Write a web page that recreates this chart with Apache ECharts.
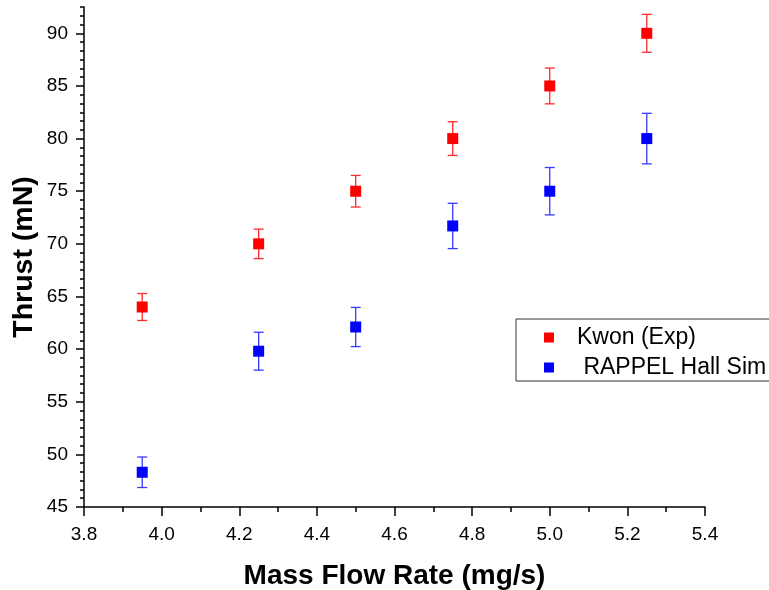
<!DOCTYPE html>
<html>
<head>
<meta charset="utf-8">
<script src="https://cdn.jsdelivr.net/npm/echarts@6/dist/echarts.min.js"></script>
<style>html,body{margin:0;padding:0;background:#fff;}#c{width:769px;height:590px;}</style>
</head>
<body>
<div id="c"></div>
<script>
var massFlow = [3.95, 4.25, 4.5, 4.75, 5.0, 5.25];
var kwonThrust = [64, 70, 75, 80, 85, 90];
var kwonErr = [1.28, 1.4, 1.5, 1.6, 1.7, 1.8];
var rappelThrust = [48.3, 59.8, 62.1, 71.7, 75.0, 80.0];
var rappelErr = [1.45, 1.8, 1.86, 2.15, 2.25, 2.4];
var yTicks = [45, 50, 55, 60, 65, 70, 75, 80, 85, 90];
var xTicks = [3.8, 4.0, 4.2, 4.4, 4.6, 4.8, 5.0, 5.2, 5.4];
var seriesNames = ['Kwon (Exp)', ' RAPPEL Hall Sim'];

var FONT = 'Liberation Sans, Arial, sans-serif';
var chart = echarts.init(document.getElementById('c'), null, {renderer: 'canvas'});

function pts(xs, ys) { return xs.map(function (x, i) { return [x, ys[i]]; }); }
function errs(xs, ys, es) { return xs.map(function (x, i) { return [x, ys[i] - es[i], ys[i] + es[i]]; }); }

function errRender(color) {
  return function (params, api) {
    var x = api.value(0);
    var lo = api.coord([x, api.value(1)]);
    var hi = api.coord([x, api.value(2)]);
    var hw = 5;
    var st = {stroke: color, lineWidth: 1.3};
    return {
      type: 'group',
      children: [
        {type: 'line', shape: {x1: lo[0], y1: lo[1], x2: hi[0], y2: hi[1]}, style: st},
        {type: 'line', shape: {x1: lo[0] - hw, y1: lo[1], x2: lo[0] + hw, y2: lo[1]}, style: st},
        {type: 'line', shape: {x1: hi[0] - hw, y1: hi[1], x2: hi[0] + hw, y2: hi[1]}, style: st}
      ]
    };
  };
}

var axisLineStyle = {color: '#000', width: 1.5};

chart.setOption({
  animation: false,
  backgroundColor: '#fff',
  grid: {left: 84, right: 64, top: 7, bottom: 83, containLabel: false, outerBoundsMode: 'none'},
  legend: {
    orient: 'vertical',
    left: 516,
    top: 319,
    padding: [7, 40, 2, 28],
    itemGap: 7,
    itemWidth: 10,
    itemHeight: 10,
    borderColor: '#333',
    borderWidth: 1,
    backgroundColor: '#fff',
    data: [{name: seriesNames[0], icon: 'rect'}, {name: seriesNames[1], icon: 'rect'}],
    textStyle: {fontFamily: FONT, fontSize: 23, color: '#000', lineHeight: 22, padding: [0, 0, 0, 18]}
  },
  xAxis: {
    type: 'value',
    min: 3.8,
    max: 5.4,
    interval: 0.2,
    name: 'Mass Flow Rate (mg/s)',
    nameLocation: 'middle',
    nameGap: 55,
    nameMoveOverlap: false,
    nameTextStyle: {fontFamily: FONT, fontSize: 28, fontWeight: 'bold', color: '#000'},
    axisLine: {lineStyle: axisLineStyle},
    axisTick: {show: true, length: 9, lineStyle: {color: '#000', width: 1.5}},
    minorTick: {show: true, splitNumber: 2, length: 5, lineStyle: {color: '#000', width: 1.5}},
    axisLabel: {fontFamily: FONT, fontSize: 19, color: '#000', margin: 18,
      formatter: function (v) { return v.toFixed(1); }},
    splitLine: {show: false},
    minorSplitLine: {show: false}
  },
  yAxis: [{
    type: 'value',
    position: 'left',
    min: 45,
    max: 92.5,
    interval: 5,
    name: 'Thrust (mN)',
    nameLocation: 'middle',
    nameGap: 45,
    nameMoveOverlap: false,
    nameTextStyle: {fontFamily: FONT, fontSize: 28.5, fontWeight: 'bold', color: '#000'},
    axisLine: {show: true, lineStyle: axisLineStyle},
    axisTick: {show: true, length: 8, customValues: yTicks, lineStyle: {color: '#000', width: 1.5}},
    axisLabel: {fontFamily: FONT, fontSize: 19, color: '#000', margin: 16, customValues: yTicks},
    splitLine: {show: false}
  }, {
    type: 'value',
    position: 'left',
    min: 45,
    max: 92.5,
    interval: 5 / 6,
    axisLine: {show: false},
    axisTick: {show: true, length: 4, lineStyle: {color: '#000', width: 1.5}},
    axisLabel: {show: false},
    splitLine: {show: false}
  }],
  series: [
    {
      type: 'custom', name: seriesNames[0] + '_err', yAxisIndex: 0,
      renderItem: errRender('#ff2a2a'), data: errs(massFlow, kwonThrust, kwonErr), z: 1, silent: true
    },
    {
      type: 'custom', name: seriesNames[1] + '_err', yAxisIndex: 0,
      renderItem: errRender('#3a3aff'), data: errs(massFlow, rappelThrust, rappelErr), z: 1, silent: true
    },
    {
      type: 'scatter', name: seriesNames[0], yAxisIndex: 0, symbol: 'rect', symbolSize: 11,
      itemStyle: {color: '#ff0000', opacity: 1}, data: pts(massFlow, kwonThrust), z: 3
    },
    {
      type: 'scatter', name: seriesNames[1], yAxisIndex: 0, symbol: 'rect', symbolSize: 11,
      itemStyle: {color: '#0000ff', opacity: 1}, data: pts(massFlow, rappelThrust), z: 3
    }
  ]
});
</script>
</body>
</html>
